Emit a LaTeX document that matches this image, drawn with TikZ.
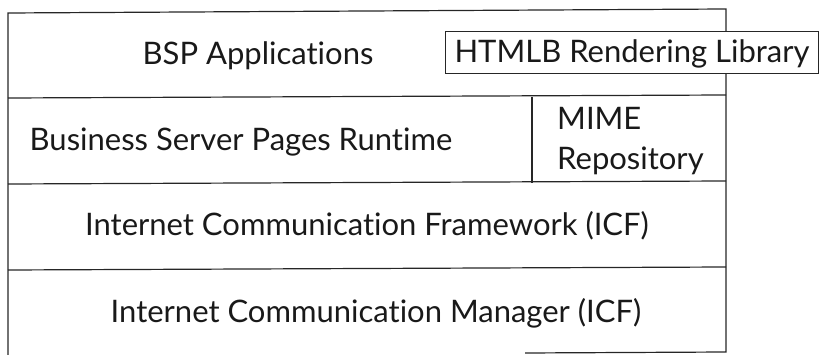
\documentclass[tikz,border=0pt]{standalone}
\usepackage{fontspec}
\setmainfont{Lato}[Ligatures=CommonOff]
\begin{document}
\begin{tikzpicture}[x=1pt,y=-1pt,
  frame/.style={draw=black!85,line width=1.2pt},
  lbl/.style={font=\fontsize{31}{40}\selectfont,text=black!90,inner sep=0pt,anchor=base},
  lib/.style={frame,fill=white,inner sep=0pt}]
\useasboundingbox (0,0) rectangle (819,355);
% outer frame
\coordinate (tl) at (8,13);
\coordinate (tr) at (726,9);
\coordinate (bl) at (8,355);
\coordinate (br) at (726,352);
\coordinate (bm) at (525,353);
\draw[frame] (bl) -- (tl) -- (tr) -- (br) -- (bm);
% horizontal dividers
\coordinate (l1) at (8,98);  \coordinate (r1) at (726,95);
\coordinate (l2) at (8,184); \coordinate (r2) at (726,181);
\coordinate (l3) at (8,270); \coordinate (r3) at (726,267);
\draw[frame] (l1) -- (r1);
\draw[frame] (l2) -- (r2);
\draw[frame] (l3) -- (r3);
% MIME divider
\coordinate (m1) at (532,97); \coordinate (m2) at (532,183);
\draw[frame] (m1) -- (m2);
% HTMLB box
\node[lib,minimum width=373pt,minimum height=42pt,anchor=north west] (htmlb) at (445,31) {};
\node[lbl] (htmlbt) at (632,63) {HTMLB Rendering Library};
% labels
\node[lbl] (bsp) at (258,65) {BSP Applications};
\node[lbl] (bspr) at (241,151) {Business Server Pages Runtime};
\node[lbl,align=left,anchor=base west] (mime) at (557,170) {MIME\\Repository};
\node[lbl] (icf) at (367,236) {Internet Communication Framework (ICF)};
\node[lbl] (icm) at (376,322) {Internet Communication Manager (ICF)};
\end{tikzpicture}
\end{document}
